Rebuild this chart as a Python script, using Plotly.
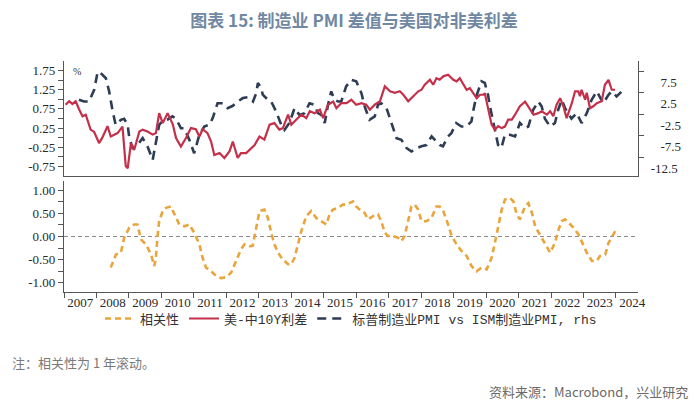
import plotly.graph_objects as go
from datetime import datetime, timedelta

# ---------------- data ----------------
# 美-中10Y利差 (lhs, %) : decimal-year positions and values
red_t = [2007.05, 2007.16, 2007.26, 2007.36, 2007.46, 2007.57, 2007.67, 2007.82, 2007.93,
         2008.08, 2008.18, 2008.34, 2008.44, 2008.65, 2008.80, 2008.90, 2008.96, 2009.06,
         2009.16, 2009.32, 2009.42, 2009.57, 2009.73, 2009.83, 2009.93, 2010.04, 2010.19,
         2010.35, 2010.45, 2010.60, 2010.76, 2010.91, 2011.06, 2011.17, 2011.27, 2011.42,
         2011.53, 2011.63, 2011.79, 2011.94, 2012.10, 2012.20, 2012.35, 2012.45, 2012.61,
         2012.76, 2012.87, 2013.02, 2013.17, 2013.33, 2013.48, 2013.63, 2013.74, 2013.90,
         2014.00, 2014.15, 2014.31, 2014.46, 2014.57, 2014.72, 2014.88, 2014.98, 2015.13,
         2015.29, 2015.39, 2015.54, 2015.70, 2015.85, 2016.00, 2016.16, 2016.31, 2016.42,
         2016.57, 2016.73, 2016.88, 2017.04, 2017.19, 2017.34, 2017.45, 2017.60, 2017.76,
         2017.91, 2018.01, 2018.11, 2018.27, 2018.37, 2018.47, 2018.57, 2018.68, 2018.83,
         2018.99, 2019.09, 2019.19, 2019.29, 2019.40, 2019.50, 2019.60, 2019.71, 2019.81,
         2019.91, 2019.96, 2020.07, 2020.17, 2020.27, 2020.37, 2020.48, 2020.58, 2020.68,
         2020.79, 2020.89, 2021.04, 2021.20, 2021.30, 2021.46, 2021.61, 2021.71, 2021.87,
         2021.97, 2022.07, 2022.17, 2022.28, 2022.38, 2022.48, 2022.64, 2022.74, 2022.84,
         2022.89, 2022.94, 2023.05, 2023.10, 2023.20, 2023.30, 2023.41, 2023.56, 2023.66,
         2023.77, 2023.87, 2023.97]
red_v = [0.86, 0.95, 0.88, 0.95, 0.75, 0.56, 0.60, 0.21, 0.15,
         -0.14, 0.00, 0.30, 0.03, 0.12, 0.29, -0.74, -0.80, -0.14,
         -0.32, 0.16, 0.21, 0.16, 0.08, 0.12, 0.64, 0.38, 0.64,
         0.35, -0.01, -0.23, 0.00, 0.25, 0.22, 0.03, 0.22, 0.12,
         -0.10, -0.45, -0.40, -0.53, -0.35, -0.10, -0.53, -0.40, -0.40,
         -0.27, -0.19, 0.03, -0.05, 0.34, 0.38, 0.21, 0.25, 0.60,
         0.34, 0.47, 0.60, 0.51, 0.69, 0.64, 0.73, 0.51, 0.86,
         0.94, 0.77, 0.90, 0.90, 0.99, 0.86, 0.90, 0.86, 0.73,
         0.86, 0.95, 1.34, 1.21, 1.17, 1.21, 1.12, 0.95, 1.08,
         1.21, 1.25, 1.38, 1.51, 1.38, 1.55, 1.51, 1.60, 1.64,
         1.51, 1.47, 1.55, 1.42, 1.25, 1.29, 1.16, 1.03, 1.12,
         1.12, 1.16, 0.73, 0.34, 0.21, 0.30, 0.25, 0.29, 0.47,
         0.47, 0.60, 0.82, 0.94, 0.82, 0.60, 0.64, 0.69, 0.60,
         0.69, 0.56, 0.86, 1.03, 0.82, 0.51, 0.90, 1.21, 1.21,
         1.08, 1.25, 0.99, 1.17, 0.77, 0.82, 0.90, 0.95, 1.38,
         1.51, 1.25, 1.25]

# 标普制造业PMI vs ISM制造业PMI (rhs)
pmi_t = [2007.46, 2007.62, 2007.77, 2007.93, 2008.03, 2008.08, 2008.29, 2008.39, 2008.49,
         2008.59, 2008.75, 2008.85, 2008.96, 2009.01, 2009.11, 2009.26, 2009.42, 2009.57,
         2009.73, 2009.83, 2009.93, 2010.03, 2010.19, 2010.34, 2010.45, 2010.60, 2010.70,
         2010.86, 2011.01, 2011.17, 2011.32, 2011.48, 2011.58, 2011.73, 2011.89, 2012.04,
         2012.20, 2012.35, 2012.51, 2012.66, 2012.82, 2012.92, 2012.97, 2013.07, 2013.12,
         2013.28, 2013.38, 2013.53, 2013.69, 2013.79, 2013.94, 2014.10, 2014.25, 2014.41,
         2014.56, 2014.72, 2014.82, 2014.92, 2015.03, 2015.13, 2015.23, 2015.33, 2015.44,
         2015.54, 2015.69, 2015.85, 2016.00, 2016.16, 2016.26, 2016.41, 2016.57, 2016.67,
         2016.77, 2016.93, 2017.13, 2017.24, 2017.39, 2017.55, 2017.70, 2017.86, 2018.01,
         2018.16, 2018.32, 2018.47, 2018.57, 2018.67, 2018.83, 2018.93, 2019.08, 2019.24,
         2019.39, 2019.55, 2019.60, 2019.70, 2019.86, 2019.96, 2020.06, 2020.11, 2020.22,
         2020.27, 2020.37, 2020.47, 2020.58, 2020.73, 2020.89, 2021.04, 2021.19, 2021.30,
         2021.45, 2021.61, 2021.71, 2021.81, 2021.97, 2022.12, 2022.22, 2022.33, 2022.43,
         2022.63, 2022.79, 2022.94, 2023.10, 2023.25, 2023.41, 2023.61, 2023.77, 2023.87,
         2024.02, 2024.18]
pmi_v = [3.4, 3.0, 3.0, 5.7, 9.6, 10.0, 8.4, 5.35, 1.1,
         -2.4, -1.25, -1.0, -2.4, -5.5, -7.8, -7.1, -5.5, -7.4,
         -10.55, -6.3, -2.4, -1.6, -1.2, -0.46, -1.0, -3.2, -3.2,
         -5.9, -9.0, -4.7, -2.8, -2.4, -0.86, 2.6, 2.6, 1.47,
         2.0, 3.0, 3.8, 4.0, 3.0, 4.96, 7.3, 6.1, 4.6,
         3.4, 3.0, 0.7, -2.4, -3.6, -2.0, 1.47, -0.1, 0.3,
         2.6, 2.2, 0.3, -0.1, -2.0, 2.2, 5.35, 3.4, 3.0,
         3.0, 6.5, 8.05, 7.7, 4.96, 1.86, -1.25, -0.46, 2.2,
         2.6, 1.5, -2.8, -5.5, -5.9, -7.8, -8.6, -7.8, -7.4,
         -7.1, -5.1, -6.3, -7.1, -7.4, -5.1, -4.35, -2.0, -2.8,
         -2.8, -1.6, 0.7, 4.2, 7.7, 7.3, 4.56, 2.2, -1.6,
         -3.6, -7.1, -7.8, -4.7, -4.7, -5.1, -2.0, -3.2, -2.8,
         1.1, 3.0, 1.86, -1.0, -2.8, -2.0, 1.1, 3.4, 1.47,
         -1.0, 0.3, -2.0, 0.3, 3.4, 5.35, 2.6, 4.56, 5.35,
         4.2, 5.35]

# 相关性 (1-year rolling correlation)
cor_t = [2008.44, 2008.60, 2008.75, 2008.85, 2009.01, 2009.16, 2009.26, 2009.37, 2009.52,
         2009.68, 2009.78, 2009.83, 2009.88, 2009.93, 2010.04, 2010.14, 2010.29, 2010.40,
         2010.55, 2010.71, 2010.86, 2011.01, 2011.17, 2011.27, 2011.37, 2011.53, 2011.68,
         2011.84, 2011.99, 2012.15, 2012.30, 2012.45, 2012.56, 2012.71, 2012.81, 2012.92,
         2013.02, 2013.17, 2013.28, 2013.38, 2013.48, 2013.59, 2013.74, 2013.90, 2014.00,
         2014.10, 2014.20, 2014.31, 2014.46, 2014.61, 2014.77, 2014.92, 2015.08, 2015.18,
         2015.28, 2015.44, 2015.59, 2015.70, 2015.90, 2016.00, 2016.16, 2016.26, 2016.36,
         2016.52, 2016.67, 2016.77, 2016.88, 2016.98, 2017.13, 2017.29, 2017.39, 2017.49,
         2017.60, 2017.70, 2017.80, 2017.91, 2018.01, 2018.16, 2018.32, 2018.47, 2018.57,
         2018.68, 2018.83, 2018.94, 2019.09, 2019.24, 2019.40, 2019.55, 2019.71, 2019.86,
         2020.02, 2020.17, 2020.27, 2020.38, 2020.48, 2020.58, 2020.74, 2020.84, 2020.94,
         2021.04, 2021.20, 2021.30, 2021.41, 2021.51, 2021.66, 2021.77, 2021.87, 2021.97,
         2022.12, 2022.23, 2022.33, 2022.43, 2022.54, 2022.69, 2022.85, 2023.00, 2023.10,
         2023.26, 2023.41, 2023.51, 2023.67, 2023.77, 2023.87, 2023.98, 2024.08]
cor_v = [-0.67, -0.39, -0.35, -0.03, 0.19, 0.26, 0.26, -0.06, -0.17,
         -0.39, -0.64, -0.46, 0.01, 0.33, 0.55, 0.62, 0.65, 0.48,
         0.26, 0.22, 0.26, 0.08, -0.17, -0.46, -0.67, -0.75, -0.85,
         -0.90, -0.88, -0.78, -0.53, -0.28, -0.17, -0.21, -0.20, 0.19,
         0.55, 0.58, 0.40, 0.08, -0.17, -0.35, -0.50, -0.60, -0.60,
         -0.46, -0.17, 0.12, 0.44, 0.55, 0.40, 0.33, 0.26, 0.48,
         0.58, 0.62, 0.69, 0.69, 0.76, 0.65, 0.55, 0.51, 0.37,
         0.44, 0.48, 0.33, 0.08, 0.01, 0.01, -0.03, -0.10, 0.01,
         0.33, 0.65, 0.69, 0.58, 0.33, 0.33, 0.40, 0.65, 0.65,
         0.55, 0.26, 0.01, -0.17, -0.31, -0.42, -0.64, -0.75, -0.67,
         -0.71, -0.46, -0.14, 0.26, 0.58, 0.80, 0.83, 0.76, 0.48,
         0.37, 0.65, 0.72, 0.51, 0.22, 0.04, -0.10, -0.24, -0.35,
         -0.14, 0.15, 0.33, 0.37, 0.30, 0.19, 0.04, -0.21, -0.35,
         -0.53, -0.53, -0.42, -0.39, -0.14, -0.03, 0.12, 0.08]

left_ticks = [-0.75, -0.25, 0.25, 0.75, 1.25, 1.75]
left_minor = [-0.5, 0.0, 0.5, 1.0, 1.5]
right_ticks = [-12.5, -7.5, -2.5, 2.5, 7.5]
right_minor = [-10, -5, 0, 5, 10]
bot_ticks = [-1.0, -0.75, -0.5, -0.25, 0.0, 0.25, 0.5, 0.75, 1.0]

names = ["相关性", "美-中10Y利差", "标普制造业PMI vs ISM制造业PMI, rhs"]
title = "图表 15: 制造业 PMI 差值与美国对非美利差"
note = "注：相关性为 1 年滚动。"
source = "资料来源：Macrobond，兴业研究"


def to_date(t):
    y = int(t)
    start = datetime(y, 1, 1)
    n = (datetime(y + 1, 1, 1) - start).days
    return start + timedelta(days=(t - y) * n)


RED = "#c4304a"
NAVY = "#2e3d54"
ORANGE = "#e9a53c"
TICKFONT = dict(family="Liberation Serif, serif", size=13, color="#2a2a2a")
AXCOL = "#555555"

# the page body adds an 8px offset; the figure is sized to fit the 700x404 window
W, H = 692, 396

fig = go.Figure()

fig.add_trace(go.Scatter(
    x=[to_date(t) for t in cor_t], y=cor_v, name=names[0], mode="lines",
    line=dict(color=ORANGE, width=2.6, dash="6px,4px"),
    xaxis="x", yaxis="y3", legendrank=1))

fig.add_trace(go.Scatter(
    x=[to_date(t) for t in pmi_t], y=pmi_v, name=names[2], mode="lines",
    line=dict(color=NAVY, width=2.6, dash="9px,6px"),
    xaxis="x2", yaxis="y", legendrank=3))

fig.add_trace(go.Scatter(
    x=[to_date(t) for t in red_t], y=red_v, name=names[1], mode="lines",
    line=dict(color=RED, width=2.2),
    xaxis="x2", yaxis="y2", legendrank=2))

xrange = ["2007-01-01", "2024-09-05"]

fig.update_layout(
    width=W, height=H,
    margin=dict(l=56, r=62, t=53, b=112),
    paper_bgcolor="white", plot_bgcolor="white",
    showlegend=True,
    title=dict(text=title, x=0.5, xanchor="center", y=1 - 13.5 / H, yanchor="middle",
               font=dict(family="Noto Sans CJK SC", size=17, color="#7088a2", weight="bold")),
    legend=dict(orientation="h", x=0.5, xanchor="center", y=-0.115, yanchor="middle",
                font=dict(family="Liberation Mono, Noto Sans CJK SC", size=13, color="#333333"),
                itemwidth=30, bgcolor="rgba(0,0,0,0)", traceorder="normal"),
    xaxis=dict(type="date", range=xrange, anchor="y3", domain=[0, 1],
               showline=True, linecolor=AXCOL, linewidth=1.2,
               ticks="outside", ticklen=5, tickcolor=AXCOL, tickwidth=1,
               dtick="M12", tick0="2007-01-01", ticklabelmode="period", tickformat="%Y",
               ticklabelstandoff=-7,
               tickfont=TICKFONT, showgrid=False, zeroline=False),
    xaxis2=dict(type="date", range=xrange, anchor="y", matches="x", domain=[0, 1],
                showline=True, linecolor=AXCOL, linewidth=1.2, ticks="",
                showticklabels=False, showgrid=False, zeroline=False),
    # base top axis: PMI diff (right side)
    yaxis=dict(domain=[0.502, 1], range=[-14.3, 12.4], side="right", anchor="x2",
               showline=True, linecolor=AXCOL, linewidth=1.2,
               tickvals=right_ticks,
               ticktext=["-12.5", "\u2007\u2008-7.5", "\u2007\u2008-2.5", "\u2007\u20082.5", "\u2007\u20087.5"],
               ticks="", ticklabelstandoff=9,
               minor=dict(tickvals=right_minor, ticks="outside", ticklen=5, tickcolor=AXCOL),
               tickfont=TICKFONT, showgrid=False, zeroline=False),
    # overlay top axis: spread (left side)
    yaxis2=dict(domain=[0.502, 1], range=[-1.0, 2.0], side="left", overlaying="y", anchor="x2",
                showline=True, linecolor=AXCOL, linewidth=1.2,
                tickvals=left_ticks, ticktext=[f"{v:.2f}" for v in left_ticks],
                ticks="outside", ticklen=5, tickcolor=AXCOL,
                minor=dict(tickvals=left_minor, ticks="outside", ticklen=5, tickcolor=AXCOL),
                tickfont=TICKFONT, showgrid=False, zeroline=False),
    yaxis3=dict(domain=[0, 0.4805], range=[-1.2, 1.2], anchor="x",
                showline=True, linecolor=AXCOL, linewidth=1.2,
                tickvals=bot_ticks,
                ticktext=[f"{v:.2f}" if abs(v * 2 - round(v * 2)) < 1e-9 else "" for v in bot_ticks],
                ticks="outside", ticklen=5, tickcolor=AXCOL,
                tickfont=TICKFONT, showgrid=False, zeroline=False),
    shapes=[dict(type="line", xref="x domain", yref="y3", x0=0, x1=1, y0=0, y1=0,
                 line=dict(color="#8a8a8a", width=1.2, dash="4px,3px"), layer="below")],
    annotations=[
        dict(text="%", xref="x2 domain", yref="y domain", x=0.012, y=0.97,
             xanchor="left", yanchor="top", showarrow=False,
             font=dict(family="Liberation Serif, serif", size=10, color="#333333")),
        dict(text=note, xref="paper", yref="paper", x=-0.094, y=-0.307,
             xanchor="left", yanchor="middle", showarrow=False,
             font=dict(family="Noto Sans CJK SC", size=13, color="#7a7a7a")),
        dict(text=source, xref="paper", yref="paper", x=1.0906, y=-0.4286,
             xanchor="right", yanchor="middle", showarrow=False,
             font=dict(family="Noto Sans CJK SC", size=13, color="#6a6a6a")),
    ],
)

fig.write_html("out.html")
